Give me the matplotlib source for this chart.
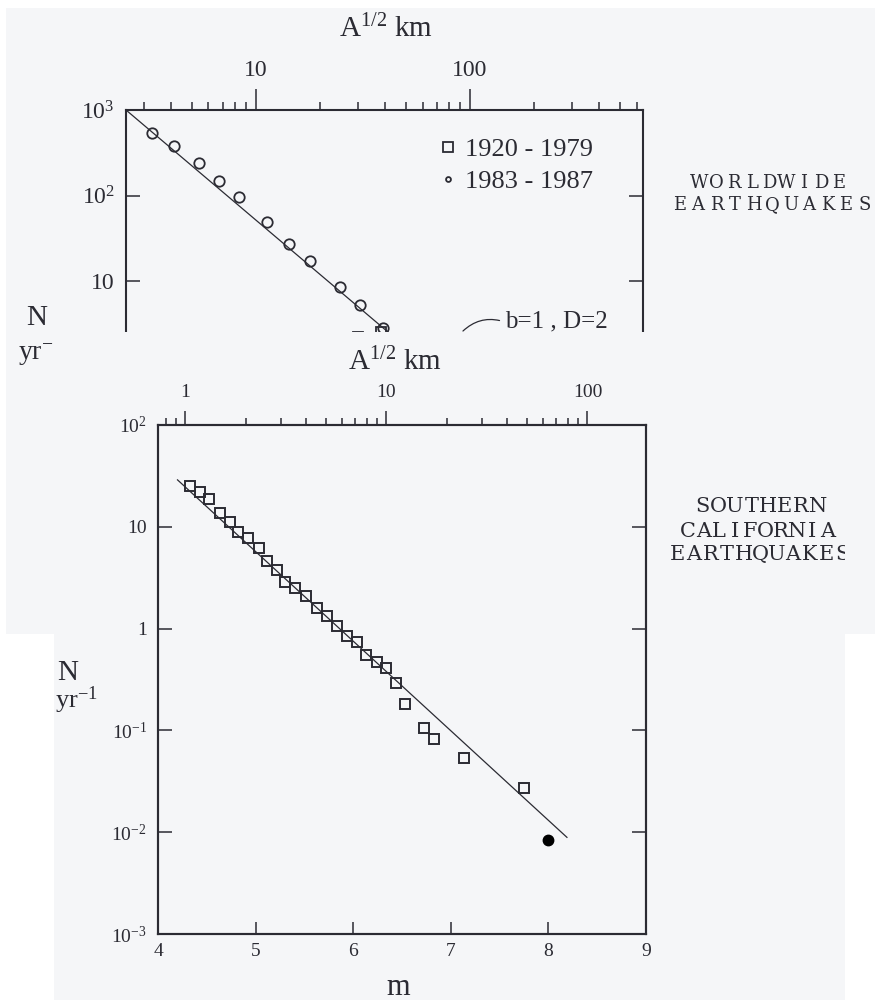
import numpy as np
import matplotlib
matplotlib.use("Agg")
import matplotlib.pyplot as plt
from matplotlib.patches import Rectangle
from matplotlib.lines import Line2D

plt.rcParams['font.family'] = ['Liberation Serif', 'DejaVu Serif']
plt.rcParams['mathtext.fontset'] = 'custom'
plt.rcParams['mathtext.rm'] = 'Liberation Serif'
plt.rcParams['mathtext.it'] = 'Liberation Serif:italic'
plt.rcParams['mathtext.bf'] = 'Liberation Serif:bold'

INK = '#2b2b33'
PAPER = '#f5f6f8'

# --- worldwide earthquakes: A^1/2 (km) vs N (per year)
ww_circ_a = [3.27, 4.14, 5.42, 6.71, 8.33, 11.3, 14.3, 17.9, 24.7, 30.6, 39.2]
ww_circ_n = [538, 379, 240, 148, 96, 49, 27.1, 17.1, 8.5, 5.24, 2.82]
ww_sq_a = [29.9, 38.5]
ww_sq_n = [2.2, 2.5]
ww_fit_a = [2.47, 60]
ww_fit_n = [1000, 1.15]

# --- southern california: magnitude m vs N (per year)
sc_m = [4.33, 4.43, 4.52, 4.64, 4.74, 4.82, 4.92, 5.03, 5.12, 5.22,
        5.30, 5.40, 5.52, 5.63, 5.73, 5.83, 5.94, 6.04, 6.13, 6.24,
        6.34, 6.44, 6.53, 6.73, 6.83, 7.14, 7.75]
sc_n = [25.2, 22.0, 18.8, 13.7, 11.1, 8.9, 7.8, 6.2, 4.6, 3.8,
        2.87, 2.5, 2.09, 1.59, 1.33, 1.06, 0.845, 0.738, 0.55, 0.47,
        0.41, 0.292, 0.182, 0.106, 0.082, 0.0535, 0.0272]
sc_big_m = [8.0]
sc_big_n = [0.0084]
sc_fit_m = [4.2, 8.19]
sc_fit_n = [28.9, 0.0089]

# magnitude <-> A^1/2 (km)
M0, M_PER_DECADE = 4.28, 2.06


def m_to_a(m):
    return 10 ** ((np.asarray(m, dtype=float) - M0) / M_PER_DECADE)


W, H = 875, 1000


def fx(px):
    return px / W


def fy(py):
    return 1 - py / H


fig = plt.figure(figsize=(W / 100, H / 100), dpi=100, facecolor='white')


def ftext(x, y, s, size, **kw):
    kw.setdefault('ha', 'center')
    kw.setdefault('va', 'baseline')
    return fig.text(fx(x), fy(y), s, fontsize=size, color=INK, **kw)


def spaced_text(s, xc, y, adv, size, **kw):
    # the scans use a wide, evenly spaced caps face
    n = len(s)
    arts = []
    for i, ch in enumerate(s):
        arts.append(ftext(xc + (i - (n - 1) / 2) * adv, y, ch, size,
                          family='DejaVu Serif', **kw))
    return arts


def style_spines(ax):
    for sp in ax.spines.values():
        sp.set_linewidth(1.5)
        sp.set_color(INK)


# two pasted scans on white paper
rect_a = Rectangle((fx(6), fy(634)), fx(875) - fx(6), fy(8) - fy(634),
                   transform=fig.transFigure, facecolor=PAPER, edgecolor='none', zorder=-2)
rect_b = Rectangle((fx(54), fy(1000)), fx(845) - fx(54), fy(332) - fy(1000),
                   transform=fig.transFigure, facecolor=PAPER, edgecolor='none', zorder=1)
fig.add_artist(rect_a)
fig.add_artist(rect_b)

# ---------------- top panel (worldwide)
ax1 = fig.add_axes([fx(126), fy(366.5), fx(643) - fx(126), fy(110) - fy(366.5)], zorder=0)
ax1.set_facecolor('none')
ax1.set_xscale('log')
ax1.set_yscale('log')
ax1.set_xlim(2.47, 643)
ax1.set_ylim(1, 1000)
ax1.plot(ww_fit_a, ww_fit_n, color=INK, lw=0.9)
ax1.plot(ww_circ_a, ww_circ_n, 'o', ms=7.5, mfc='none', mec=INK, mew=1.3)
ax1.plot(ww_sq_a, ww_sq_n, 's', ms=7.5, mfc='none', mec=INK, mew=1.3)

ax1.xaxis.tick_top()
ax1.set_xticks([10, 100], ['10', '100'])
ax1.set_xticks([3, 4, 5, 6, 7, 8, 9, 20, 30, 40, 50, 60, 70, 80, 90,
                200, 300, 400, 500, 600], minor=True)
ax1.tick_params(axis='x', which='major', direction='out', length=15, width=1.1,
                pad=6, labelsize=17, colors=INK)
ax1.tick_params(axis='x', which='minor', direction='out', length=6, width=1.1, colors=INK)
ax1.set_yticks([1000, 100, 10], ['$10^3$', '$10^2$', '10'])
ax1.set_yticks([], minor=True)
ax1.tick_params(axis='y', which='major', direction='in', length=10, width=1.1,
                left=True, right=True, pad=8, labelsize=17, colors=INK)
style_spines(ax1)

leg_handles = [
    Line2D([], [], ls='none', marker='s', ms=7.5, mfc='none', mec=INK, mew=1.3),
    Line2D([], [], ls='none', marker='o', ms=3.5, mfc='none', mec=INK, mew=1.3),
]
leg = ax1.legend(leg_handles, ['1920 - 1979', '1983 - 1987'], loc='upper left',
                 bbox_to_anchor=(fx(440), fy(138)), bbox_transform=fig.transFigure,
                 frameon=False, fontsize=19, handlelength=0.6, handletextpad=0.35,
                 labelspacing=0.32, borderpad=0, borderaxespad=0)
for t in leg.get_texts():
    t.set_color(INK)

ax1.annotate('b=1 , D=2', xy=(92.7, 2.6), xytext=(fx(505), fy(327)),
             textcoords='figure fraction', ha='left', va='baseline', fontsize=18,
             color=INK, annotation_clip=False,
             arrowprops=dict(arrowstyle='-', color=INK, lw=0.9, shrinkA=2, shrinkB=0,
                             relpos=(0, 0.45), connectionstyle='arc3,rad=0.3'))

ftext(386, 37, 'A$^{1/2}$ km', 21)
ftext(37, 325, 'N', 21, zorder=0.5)
ftext(18, 360, 'yr$^{-1}$', 20, ha='left', zorder=0.5)
spaced_text('WORLDWIDE', 769, 188, 17.5, 13)
spaced_text('EARTHQUAKES', 772, 210, 18.5, 13)

# ---------------- bottom panel (southern california)
ax2 = fig.add_axes([fx(158), fy(934), fx(646) - fx(158), fy(425) - fy(934)], zorder=2)
ax2.set_facecolor(PAPER)
ax2.set_yscale('log')
ax2.set_xlim(4, 9)
ax2.set_ylim(1e-3, 1e2)
ax2.plot(sc_fit_m, sc_fit_n, color=INK, lw=0.9)
ax2.plot(sc_m, sc_n, 's', ms=7, mfc='none', mec=INK, mew=1.4)
ax2.plot(sc_big_m, sc_big_n, 'o', ms=7.5, color='black')

ax2.set_xticks([4, 5, 6, 7, 8, 9])
ax2.tick_params(axis='x', direction='in', length=8.5, width=1.1, top=False,
                bottom=True, pad=6.5, labelsize=14, colors=INK)
ax2.set_yticks([1e-3, 1e-2, 1e-1, 1, 10, 100],
               ['$10^{-3}$', '$10^{-2}$', '$10^{-1}$', '1', '10', '$10^2$'])
ax2.set_yticks([], minor=True)
ax2.tick_params(axis='y', direction='in', length=10, width=1.1, left=True,
                right=True, pad=8, labelsize=14, colors=INK)
style_spines(ax2)

axt = ax2.twiny()
axt.set_zorder(2.5)
axt.set_xscale('log')
axt.set_xlim(m_to_a(ax2.get_xlim()[0]), m_to_a(ax2.get_xlim()[1]))
axt.set_xticks([1, 10, 100], ['1', '10', '100'])
axt.set_xticks([0.8, 0.9, 2, 3, 4, 5, 6, 7, 8, 9,
                20, 30, 40, 50, 60, 70, 80, 90], minor=True)
axt.tick_params(axis='x', which='major', direction='out', length=10, width=1.1,
                pad=7, labelsize=14, colors=INK)
axt.tick_params(axis='x', which='minor', direction='out', length=5, width=1.1, colors=INK)
style_spines(axt)

bottom_texts = [
    ftext(395, 370, 'A$^{1/2}$ km', 21, zorder=3),
    ftext(68, 680, 'N', 21, zorder=3),
    ftext(55, 708, 'yr$^{-1}$', 19, ha='left', zorder=3),
    ftext(398, 995, 'm', 22, zorder=3),
]
bottom_texts += spaced_text('SOUTHERN', 760, 512, 16.5, 15, zorder=3)
bottom_texts += spaced_text('CALIFORNIA', 758, 537, 15.5, 15, zorder=3)
bottom_texts += spaced_text('EARTHQUAKES', 760, 560, 16.5, 15, zorder=3)
for t in bottom_texts:
    t.set_clip_path(rect_b)

fig.savefig('out.png', dpi=100, facecolor='white')
